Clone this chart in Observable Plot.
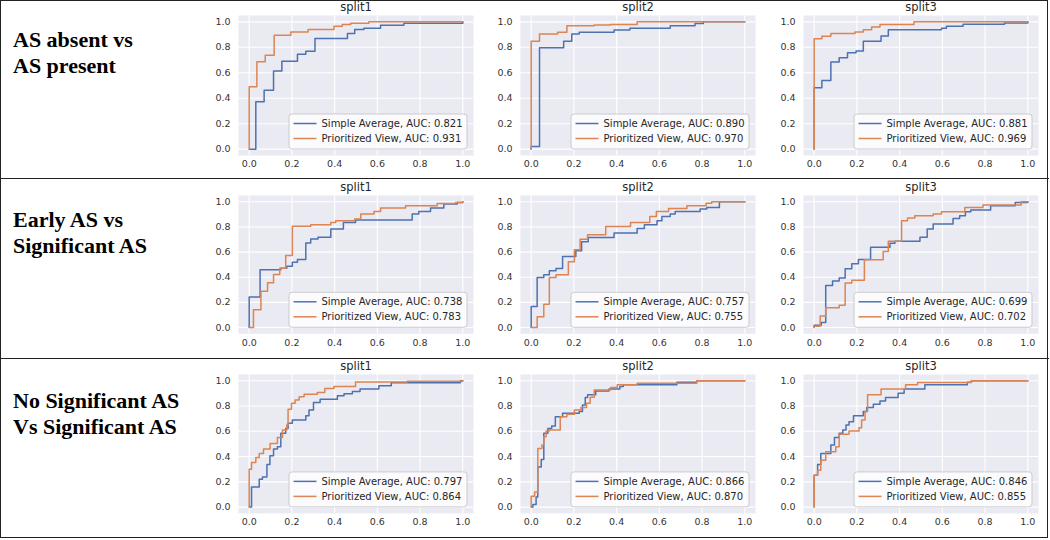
<!DOCTYPE html>
<html>
<head>
<meta charset="utf-8">
<script src="https://cdn.jsdelivr.net/npm/d3@7"></script>
<script src="https://cdn.jsdelivr.net/npm/@observablehq/plot@0.6"></script>
<style>
  html, body { margin: 0; padding: 0; background: #fff; }
  #page { position: relative; width: 1050px; height: 540px; overflow: hidden; background: #fff; }
  .panel { position: absolute; }
  .rowlabel { position: absolute; left: 13px; font-family: "Liberation Serif", "Times New Roman", serif; font-weight: bold; font-size: 22px; line-height: 26px; color: #000; white-space: nowrap; }
  .border { position: absolute; left: 0; top: 0; width: 1046px; height: 536px; border: 1.5px solid #222; }
  .sep { position: absolute; left: 0; width: 1049px; height: 1.5px; background: #222; }
</style>
</head>
<body>
<div id="page"></div>
<script>
// ---------- categories / labels ----------
const rowLabels = [["AS absent vs", "AS present"], ["Early AS vs", "Significant AS"], ["No Significant AS", "Vs Significant AS"]];
const splitNames = ["split1", "split2", "split3"];
const seriesNames = ["Simple Average", "Prioritized View"];
const xTicks = [0, 0.2, 0.4, 0.6, 0.8, 1.0];
const yTicks = [0, 0.2, 0.4, 0.6, 0.8, 1.0];

// AUC values [row][split]
const aucSimple = [[0.821, 0.890, 0.881], [0.738, 0.757, 0.699], [0.797, 0.866, 0.846]];
const aucPrior  = [[0.931, 0.970, 0.969], [0.783, 0.755, 0.702], [0.864, 0.870, 0.855]];

// ---------- ROC curve points [fpr, tpr] (step-after corners) ----------
// Row 1: AS absent vs AS present
const r1_split1_simple = [[0,0],[0.031,0.372],[0.07,0.463],[0.114,0.613],[0.153,0.691],[0.226,0.746],[0.265,0.77],[0.308,0.869],[0.46,0.908],[0.494,0.94],[0.537,0.95],[0.615,0.974],[0.724,0.99],[1,1]];
const r1_split1_prior  = [[0,0],[0,0.49],[0.036,0.686],[0.075,0.738],[0.117,0.895],[0.195,0.92],[0.276,0.94],[0.397,0.965],[0.436,0.98],[0.475,0.99],[0.56,1],[1,1]];
const r1_split2_simple = [[0,0],[0,0.02],[0.039,0.796],[0.152,0.847],[0.19,0.905],[0.225,0.918],[0.388,0.937],[0.462,0.95],[0.651,0.97],[0.767,0.987],[0.806,1],[1,1]];
const r1_split2_prior  = [[0,0],[0,0.847],[0.039,0.905],[0.124,0.918],[0.167,0.97],[0.295,0.975],[0.372,0.98],[0.496,1],[1,1]];
const r1_split3_simple = [[0,0],[0,0.482],[0.036,0.539],[0.078,0.684],[0.117,0.718],[0.156,0.758],[0.196,0.771],[0.23,0.847],[0.313,0.889],[0.347,0.939],[0.596,0.95],[0.619,0.966],[0.697,0.982],[0.891,0.992],[1,1]];
const r1_split3_prior  = [[0,0],[0,0.868],[0.036,0.887],[0.078,0.908],[0.191,0.921],[0.23,0.939],[0.269,0.96],[0.308,0.979],[0.467,1],[1,1]];
// Row 2: Early AS vs Significant AS
const r2_split1_simple = [[0,0],[0,0.243],[0.051,0.459],[0.148,0.472],[0.176,0.488],[0.202,0.52],[0.226,0.541],[0.265,0.673],[0.288,0.704],[0.322,0.718],[0.382,0.784],[0.441,0.836],[0.498,0.855],[0.763,0.902],[0.794,0.923],[0.849,0.95],[0.911,0.982],[0.974,0.995],[1,1]];
const r2_split1_prior  = [[0,0],[0.02,0.142],[0.055,0.288],[0.086,0.356],[0.114,0.422],[0.143,0.472],[0.171,0.573],[0.202,0.805],[0.288,0.818],[0.382,0.836],[0.405,0.85],[0.494,0.863],[0.522,0.902],[0.584,0.923],[0.615,0.95],[0.732,0.968],[0.88,0.987],[0.966,0.995],[1,1]];
const r2_split2_simple = [[0,0],[0,0.167],[0.028,0.398],[0.059,0.419],[0.085,0.451],[0.116,0.469],[0.147,0.565],[0.209,0.61],[0.236,0.682],[0.267,0.716],[0.388,0.751],[0.496,0.788],[0.53,0.817],[0.589,0.849],[0.612,0.883],[0.651,0.902],[0.674,0.923],[0.791,0.942],[0.822,0.955],[0.881,1],[1,1]];
const r2_split2_prior  = [[0,0],[0.028,0.085],[0.059,0.186],[0.085,0.398],[0.116,0.419],[0.174,0.523],[0.202,0.618],[0.229,0.703],[0.264,0.737],[0.349,0.804],[0.465,0.836],[0.555,0.883],[0.586,0.923],[0.643,0.947],[0.729,0.968],[0.819,0.989],[0.845,1],[1,1]];
const r2_split3_simple = [[0,0],[0,0.018],[0.033,0.04],[0.054,0.335],[0.086,0.369],[0.117,0.393],[0.145,0.467],[0.176,0.507],[0.207,0.541],[0.264,0.639],[0.355,0.67],[0.378,0.686],[0.495,0.718],[0.529,0.784],[0.557,0.823],[0.65,0.868],[0.681,0.889],[0.708,0.921],[0.733,0.934],[0.826,0.968],[0.941,0.995],[1,1]];
const r2_split3_prior  = [[0,0],[0,0.01],[0.028,0.092],[0.054,0.158],[0.117,0.177],[0.145,0.354],[0.176,0.375],[0.235,0.538],[0.323,0.604],[0.347,0.686],[0.409,0.85],[0.437,0.871],[0.471,0.889],[0.557,0.902],[0.596,0.921],[0.705,0.955],[0.79,0.975],[0.969,1],[1,1]];
// Row 3: No Significant AS vs Significant AS
const r3_split1_simple = [[0,0],[0.011,0.159],[0.047,0.22],[0.062,0.239],[0.083,0.337],[0.097,0.406],[0.114,0.459],[0.132,0.477],[0.148,0.584],[0.171,0.623],[0.182,0.663],[0.202,0.69],[0.265,0.724],[0.28,0.769],[0.301,0.828],[0.332,0.854],[0.413,0.881],[0.444,0.897],[0.483,0.915],[0.519,0.936],[0.607,0.96],[0.665,0.985],[0.989,1],[1,1]];
const r3_split1_prior  = [[0,0],[0,0.3],[0.011,0.353],[0.031,0.393],[0.047,0.424],[0.067,0.459],[0.098,0.504],[0.132,0.552],[0.156,0.61],[0.176,0.65],[0.182,0.775],[0.198,0.822],[0.215,0.849],[0.234,0.873],[0.257,0.894],[0.319,0.907],[0.354,0.939],[0.397,0.955],[0.498,0.99],[0.74,0.997],[1,1]];
const r3_split2_simple = [[0,0],[0.008,0.02],[0.023,0.08],[0.031,0.318],[0.047,0.377],[0.059,0.584],[0.078,0.623],[0.096,0.642],[0.113,0.716],[0.147,0.743],[0.225,0.756],[0.24,0.809],[0.253,0.867],[0.264,0.889],[0.302,0.92],[0.364,0.936],[0.415,0.955],[0.431,0.968],[0.682,0.989],[0.775,1],[1,1]];
const r3_split2_prior  = [[0,0],[0,0.085],[0.016,0.119],[0.031,0.464],[0.05,0.491],[0.059,0.557],[0.07,0.602],[0.085,0.61],[0.136,0.716],[0.167,0.735],[0.202,0.769],[0.233,0.788],[0.259,0.822],[0.276,0.87],[0.295,0.928],[0.372,0.947],[0.403,0.968],[0.496,0.981],[0.775,1],[1,1]];
const r3_split3_simple = [[0,0],[0,0.252],[0.016,0.337],[0.031,0.424],[0.078,0.491],[0.095,0.552],[0.117,0.584],[0.134,0.61],[0.149,0.65],[0.163,0.676],[0.184,0.724],[0.23,0.756],[0.246,0.788],[0.277,0.814],[0.308,0.841],[0.334,0.867],[0.393,0.902],[0.421,0.936],[0.518,0.968],[0.717,0.989],[0.736,1],[1,1]];
const r3_split3_prior  = [[0,0],[0,0.252],[0.016,0.292],[0.031,0.371],[0.054,0.438],[0.101,0.477],[0.117,0.576],[0.163,0.602],[0.21,0.629],[0.222,0.69],[0.238,0.756],[0.25,0.889],[0.313,0.936],[0.428,0.968],[0.484,0.987],[0.736,1],[1,1]];

const curves = [
  [[r1_split1_simple, r1_split1_prior], [r1_split2_simple, r1_split2_prior], [r1_split3_simple, r1_split3_prior]],
  [[r2_split1_simple, r2_split1_prior], [r2_split2_simple, r2_split2_prior], [r2_split3_simple, r2_split3_prior]],
  [[r3_split1_simple, r3_split1_prior], [r3_split2_simple, r3_split2_prior], [r3_split3_simple, r3_split3_prior]]
];

// ---------- layout ----------
const colors = ["#4C72B0", "#DD8452"];
const bgLeft = [237.6, 520, 802.7];
const bgTop = [15.3, 195, 374.4];
const innerH = [140, 138.3, 138.9];
const innerW = 235;
const mL = 40, mR = 8, mT = 15, mB = 26;
const labelTop = [26.9, 207.4, 387.9];

const page = document.getElementById("page");
const fmt = d3.format(".1f");

function makeLegend(r, c) {
  return (index, scales, values, dim) => {
    const g = d3.create("svg:g").attr("text-anchor", "start");
    const w = 178, h = 35;
    const x0 = dim.width - dim.marginRight - 6 - w;
    const y0 = dim.height - dim.marginBottom - 6 - h;
    g.append("rect").attr("x", x0).attr("y", y0).attr("width", w).attr("height", h)
      .attr("rx", 3).attr("fill", "#ffffff").attr("fill-opacity", 0.8)
      .attr("stroke", "#cccccc").attr("stroke-width", 1);
    const aucs = [aucSimple[r][c], aucPrior[r][c]];
    seriesNames.forEach((name, i) => {
      const cy = y0 + 9.5 + 15 * i;
      g.append("line").attr("x1", x0 + 4.5).attr("x2", x0 + 27.5).attr("y1", cy).attr("y2", cy)
        .attr("stroke", colors[i]).attr("stroke-width", 1.5);
      g.append("text").attr("x", x0 + 32.5).attr("y", cy).attr("dy", "0.36em")
        .attr("text-anchor", "start")
        .attr("font-family", "DejaVu Sans").attr("font-size", 10).attr("fill", "#262626")
        .text(`${name}, AUC: ${aucs[i].toFixed(3)}`);
    });
    return g.node();
  };
}

for (let r = 0; r < 3; r++) {
  const lab = document.createElement("div");
  lab.className = "rowlabel";
  lab.style.top = labelTop[r] + "px";
  lab.innerHTML = rowLabels[r].join("<br>");
  page.appendChild(lab);

  for (let c = 0; c < 3; c++) {
    const [simple, prior] = curves[r][c];
    const chart = Plot.plot({
      width: mL + innerW + mR,
      height: mT + innerH[r] + mB,
      marginLeft: mL, marginRight: mR, marginTop: mT, marginBottom: mB,
      style: {fontFamily: "DejaVu Sans", fontSize: "9.5px", color: "#333", background: "transparent", overflow: "visible"},
      x: {domain: [-0.05, 1.05], ticks: xTicks, tickFormat: fmt, tickSize: 0, tickPadding: 5, label: null},
      y: {domain: [-0.05, 1.05], ticks: yTicks, tickFormat: fmt, tickSize: 0, tickPadding: 8, label: null},
      marks: [
        Plot.frame({fill: "#EAEAF2", stroke: "none"}),
        Plot.gridX(xTicks, {stroke: "#ffffff", strokeOpacity: 1, strokeWidth: 1.1}),
        Plot.gridY(yTicks, {stroke: "#ffffff", strokeOpacity: 1, strokeWidth: 1.1}),
        Plot.line(simple, {x: d => d[0], y: d => d[1], curve: "step-after", stroke: colors[0], strokeWidth: 1.5}),
        Plot.line(prior, {x: d => d[0], y: d => d[1], curve: "step-after", stroke: colors[1], strokeWidth: 1.5}),
        Plot.text([splitNames[c]], {text: d => d, frameAnchor: "top", dy: -4.5, lineAnchor: "bottom", fontSize: 11.5, fill: "#262626"}),
        makeLegend(r, c)
      ]
    });
    chart.classList.add("panel");
    chart.style.position = "absolute";
    chart.style.left = (bgLeft[c] - mL) + "px";
    chart.style.top = (bgTop[r] - mT) + "px";
    page.appendChild(chart);
  }
}

const border = document.createElement("div");
border.className = "border";
page.appendChild(border);
[177.5, 357.5].forEach(y => {
  const s = document.createElement("div");
  s.className = "sep";
  s.style.top = y + "px";
  page.appendChild(s);
});
</script>
</body>
</html>
